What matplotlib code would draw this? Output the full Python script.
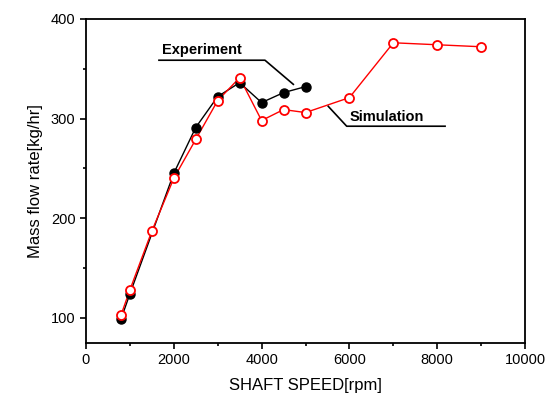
import numpy as np
import matplotlib.pyplot as plt

# experiment (filled black)
exp_speed = [800, 1000, 2000, 2500, 3000, 3500, 4000, 4500, 5000]
exp_flow = [99, 124, 245, 291, 322, 336, 316, 326, 332]

# simulation (open red)
sim_speed = [800, 1000, 1500, 2000, 2500, 3000, 3500, 4000, 4500, 5000, 6000, 7000, 8000, 9000]
sim_flow = [103, 128, 187, 240, 279, 318, 341, 298, 309, 306, 321, 376, 374, 372]

plt.rcParams['font.family'] = ['Liberation Sans', 'DejaVu Sans']

fig = plt.figure(figsize=(5.58, 4.01), dpi=100)
ax = fig.add_axes([0.154, 0.145, 0.787, 0.808])

ax.plot(exp_speed, exp_flow, '-', color='black', lw=1, zorder=2)
ax.plot(exp_speed, exp_flow, 'o', color='black', ms=6.5, zorder=3)
ax.plot(sim_speed, sim_flow, '-', color='red', lw=1, zorder=2)
ax.plot(sim_speed, sim_flow, 'o', mfc='white', mec='red', mew=1.3, ms=6.5, zorder=4)

ax.set_xlim(0, 10000)
ax.set_ylim(75, 400)
ax.set_xticks([0, 2000, 4000, 6000, 8000, 10000])
ax.set_xticks([1000, 3000, 5000, 7000, 9000], minor=True)
ax.set_yticks([100, 200, 300, 400])
ax.set_yticks([150, 250, 350], minor=True)
ax.tick_params(direction='out', length=4, width=1.2, labelsize=10.5)
ax.tick_params(which='minor', direction='out', length=2.5, width=1.2)
for s in ax.spines.values():
    s.set_linewidth(1.3)

ax.set_xlabel('SHAFT SPEED[rpm]', fontsize=12, labelpad=8)
ax.set_ylabel('Mass flow rate[kg/hr]', fontsize=12, labelpad=6)

# label callouts
ax.plot([1663, 4077, 4723], [358.5, 358.5, 334.3], color='black', lw=1.2)
ax.text(1724, 368.5, 'Experiment', fontsize=10.5, fontweight='bold', va='center')
ax.plot([5519, 5938, 8178], [312.2, 292.3, 292.3], color='black', lw=1.2)
ax.text(6014, 302, 'Simulation', fontsize=10.5, fontweight='bold', va='center')

fig.savefig('out.png', dpi=100)
